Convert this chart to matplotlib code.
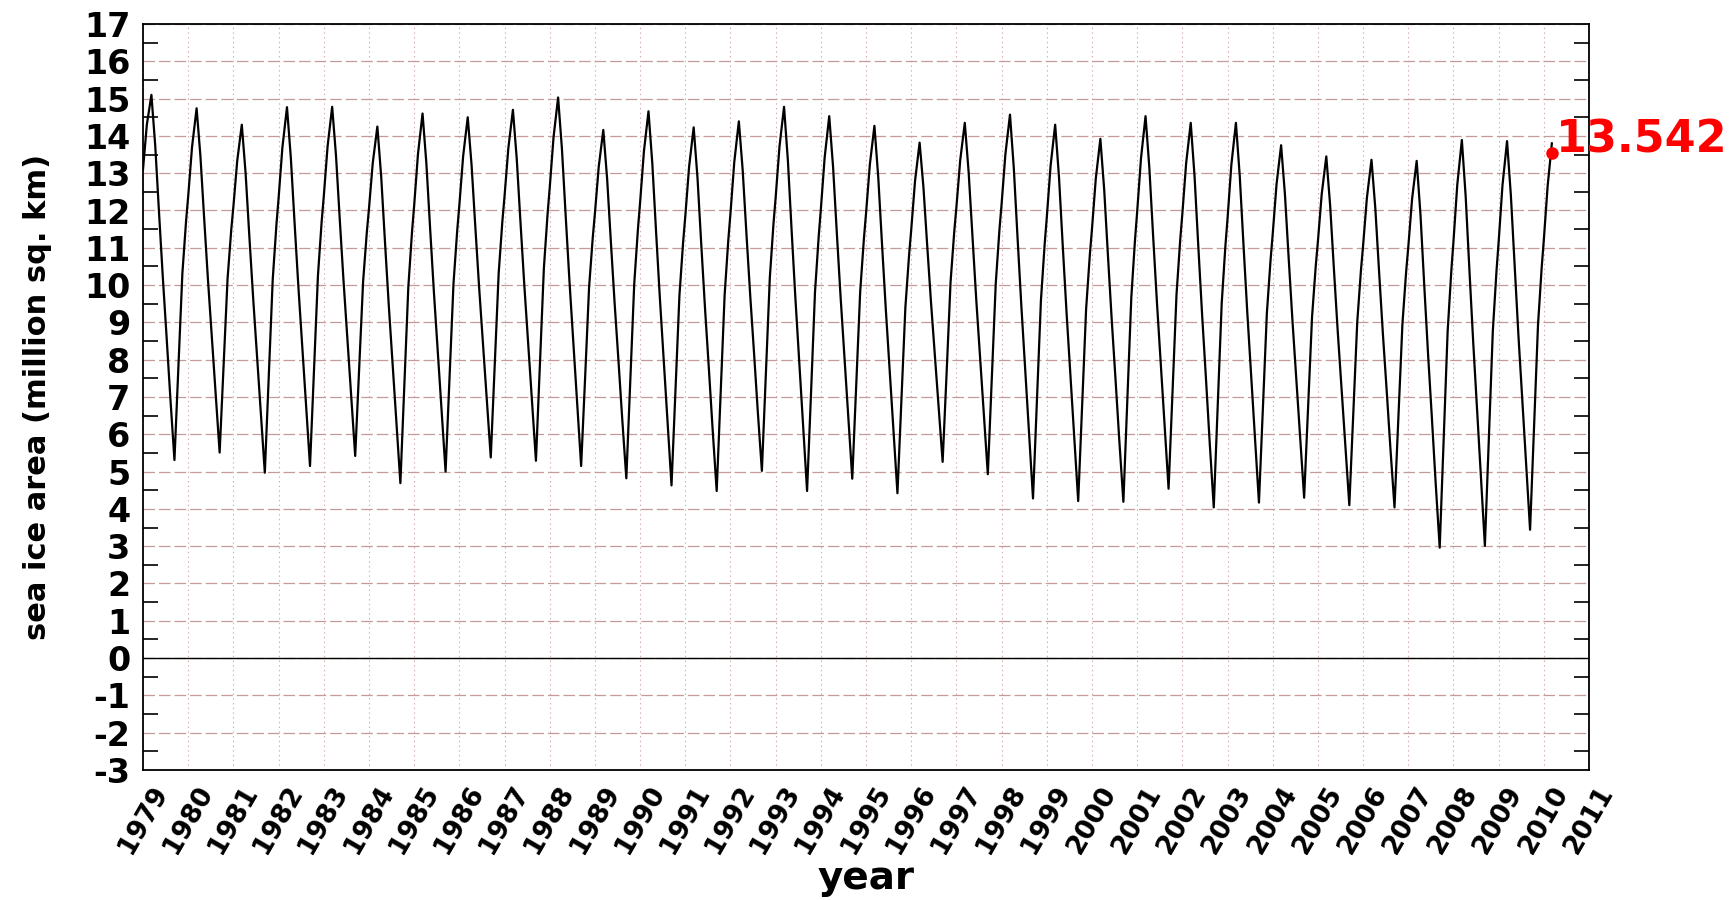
import matplotlib
matplotlib.use("Agg")
import matplotlib.pyplot as plt
import numpy as np

# ---------------- data ----------------
years = list(range(1979, 2010))
# sample dates (day of year) used for every year
sample_doy = [1, 32, 69, 100, 130, 161, 191, 222, 255, 288, 319, 349]
# sea ice area, million sq. km, one row per year at the sample dates
area = [
    [13.10, 14.30, 15.10, 13.73, 11.97, 10.21, 8.64, 6.97, 5.31, 7.86, 10.31, 11.72],  # 1979
    [12.38, 13.70, 14.74, 13.45, 11.79, 10.13, 8.65, 7.08, 5.51, 7.88, 10.17, 11.49],  # 1980
    [12.10, 13.33, 14.30, 12.99, 11.31, 9.64, 8.14, 6.56, 4.97, 7.62, 10.16, 11.63],   # 1981
    [12.32, 13.69, 14.77, 13.42, 11.69, 9.96, 8.42, 6.79, 5.15, 7.75, 10.25, 11.70],   # 1982
    [12.37, 13.72, 14.78, 13.47, 11.78, 10.10, 8.60, 7.01, 5.42, 7.80, 10.10, 11.42],  # 1983
    [12.04, 13.28, 14.25, 12.91, 11.19, 9.47, 7.94, 6.32, 4.69, 7.37, 9.94, 11.43],    # 1984
    [12.12, 13.51, 14.60, 13.26, 11.53, 9.80, 8.26, 6.63, 5.00, 7.57, 10.04, 11.46],   # 1985
    [12.13, 13.46, 14.50, 13.22, 11.58, 9.94, 8.48, 6.93, 5.38, 7.90, 10.32, 11.72],   # 1986
    [12.37, 13.67, 14.70, 13.38, 11.69, 10.00, 8.49, 6.89, 5.29, 7.92, 10.45, 11.91],  # 1987
    [12.60, 13.96, 15.03, 13.65, 11.87, 10.09, 8.51, 6.83, 5.15, 7.58, 9.93, 11.28],   # 1988
    [11.91, 13.17, 14.16, 12.85, 11.17, 9.49, 8.00, 6.41, 4.82, 7.48, 10.04, 11.51],   # 1989
    [12.20, 13.58, 14.66, 13.26, 11.45, 9.65, 8.04, 6.34, 4.63, 7.22, 9.72, 11.16],    # 1990
    [11.83, 13.17, 14.23, 12.87, 11.11, 9.36, 7.80, 6.14, 4.48, 7.16, 9.73, 11.22],    # 1991
    [11.91, 13.30, 14.39, 13.08, 11.39, 9.71, 8.21, 6.61, 5.02, 7.66, 10.19, 11.66],   # 1992
    [12.34, 13.71, 14.78, 13.34, 11.48, 9.63, 7.98, 6.23, 4.48, 7.19, 9.81, 11.31],    # 1993
    [12.02, 13.42, 14.53, 13.17, 11.42, 9.67, 8.11, 6.46, 4.81, 7.36, 9.82, 11.24],    # 1994
    [11.91, 13.23, 14.27, 12.89, 11.12, 9.35, 7.77, 6.09, 4.42, 6.96, 9.40, 10.81],    # 1995
    [11.47, 12.79, 13.82, 12.62, 11.08, 9.54, 8.17, 6.72, 5.26, 7.71, 10.08, 11.44],   # 1996
    [12.08, 13.35, 14.35, 13.03, 11.34, 9.64, 8.13, 6.53, 4.93, 7.53, 10.04, 11.49],   # 1997
    [12.16, 13.51, 14.57, 13.13, 11.28, 9.43, 7.78, 6.03, 4.28, 6.99, 9.59, 11.09],    # 1998
    [11.80, 13.20, 14.30, 12.89, 11.07, 9.26, 7.64, 5.93, 4.21, 6.83, 9.36, 10.81],    # 1999
    [11.49, 12.85, 13.92, 12.56, 10.81, 9.06, 7.50, 5.84, 4.19, 6.98, 9.67, 11.22],    # 2000
    [11.95, 13.39, 14.53, 13.13, 11.33, 9.54, 7.94, 6.24, 4.54, 7.19, 9.74, 11.21],    # 2001
    [11.90, 13.27, 14.35, 12.91, 11.05, 9.20, 7.55, 5.79, 4.04, 6.82, 9.50, 11.05],    # 2002
    [11.77, 13.22, 14.35, 12.92, 11.09, 9.26, 7.63, 5.90, 4.17, 6.76, 9.25, 10.68],    # 2003
    [11.36, 12.70, 13.75, 12.43, 10.73, 9.03, 7.51, 5.91, 4.30, 6.77, 9.15, 10.52],    # 2004
    [11.16, 12.44, 13.45, 12.14, 10.46, 8.78, 7.28, 5.69, 4.10, 6.60, 9.01, 10.40],    # 2005
    [11.05, 12.34, 13.36, 12.06, 10.38, 8.70, 7.21, 5.62, 4.04, 6.55, 8.96, 10.36],    # 2006
    [11.01, 12.31, 13.33, 11.88, 10.01, 8.15, 6.49, 4.72, 2.96, 5.91, 8.75, 10.39],    # 2007
    [11.16, 12.69, 13.89, 12.37, 10.41, 8.45, 6.71, 4.86, 3.01, 5.94, 8.76, 10.39],    # 2008
    [11.15, 12.67, 13.86, 12.40, 10.53, 8.65, 6.98, 5.21, 3.44, 6.24, 8.93, 10.48],    # 2009
]
doy_2010 = [1, 32, 66]
area_2010 = [11.21, 12.66, 13.80]
last_value = 13.542
last_label = "13.542"

year_ticks = list(range(1979, 2012))
y_ticks = list(range(-3, 18))

# ---------------- build time series ----------------
t, v = [], []
for yr, row in zip(years, area):
    for d, a in zip(sample_doy, row):
        t.append(yr + (d - 1) / 365.0)
        v.append(a)
for d, a in zip(doy_2010, area_2010):
    t.append(2010 + (d - 1) / 365.0)
    v.append(a)
t_end = t[-1]

# ---------------- figure ----------------
plt.rcParams["font.family"] = ["DejaVu Sans"]
plt.rcParams["font.weight"] = "bold"
plt.rcParams["axes.unicode_minus"] = False
plt.rcParams["lines.scale_dashes"] = False

W, H = 1733, 900
fig = plt.figure(figsize=(W / 100, H / 100), dpi=100)
L, R, T, B = 143, 1589, 24, 770
ax = fig.add_axes([L / W, 1 - B / H, (R - L) / W, (B - T) / H])

ax.set_xlim(1979, 2011)
ax.set_ylim(-3, 17)

grid_h = "#c49a9a"
grid_v = "#d9aaaa"
ax.set_yticks(y_ticks)
ax.set_yticks(np.arange(-2.5, 17, 1.0), minor=True)
ax.set_xticks(year_ticks)
ax.set_xticklabels([str(y) for y in year_ticks], rotation=60, ha="center")

ax.grid(axis="y", which="major", color=grid_h, linestyle=(0, (8.3, 2.9)), linewidth=0.9)
ax.grid(axis="x", which="major", color=grid_v, linestyle=(0, (1.0, 2.4)), linewidth=0.8)
ax.set_axisbelow(True)

ax.axhline(0, color="black", linewidth=1.0, zorder=2)

ax.plot(t, v, color="black", linewidth=1.6, zorder=3)
ax.plot([t_end], [last_value], "o", color="red", markersize=8, zorder=4, clip_on=False)
ax.annotate(last_label, (t_end, last_value), xytext=(3, 0), textcoords="offset points",
            color="red", fontsize=32, fontweight="bold", ha="left", va="baseline",
            annotation_clip=False)

ax.tick_params(axis="y", which="major", length=0, pad=9, labelsize=24)
ax.tick_params(axis="y", which="minor", length=10.5, width=1.2, direction="in",
               left=True, right=True, color="black")
ax.tick_params(axis="x", which="major", length=0, pad=8, labelsize=19)

for s in ax.spines.values():
    s.set_linewidth(1.3)
    s.set_color("black")

ax.set_ylabel("sea ice area (million sq. km)", fontsize=22, fontweight="bold")
ax.yaxis.label.set_verticalalignment("baseline")
ax.yaxis.set_label_coords((46 - L) / (R - L), 0.5)

ax.set_xlabel("year", fontsize=28, fontweight="bold")
ax.xaxis.label.set_verticalalignment("baseline")
ax.xaxis.set_label_coords(0.5, (B - 889) / (B - T))

fig.savefig("out.png", dpi=100)
